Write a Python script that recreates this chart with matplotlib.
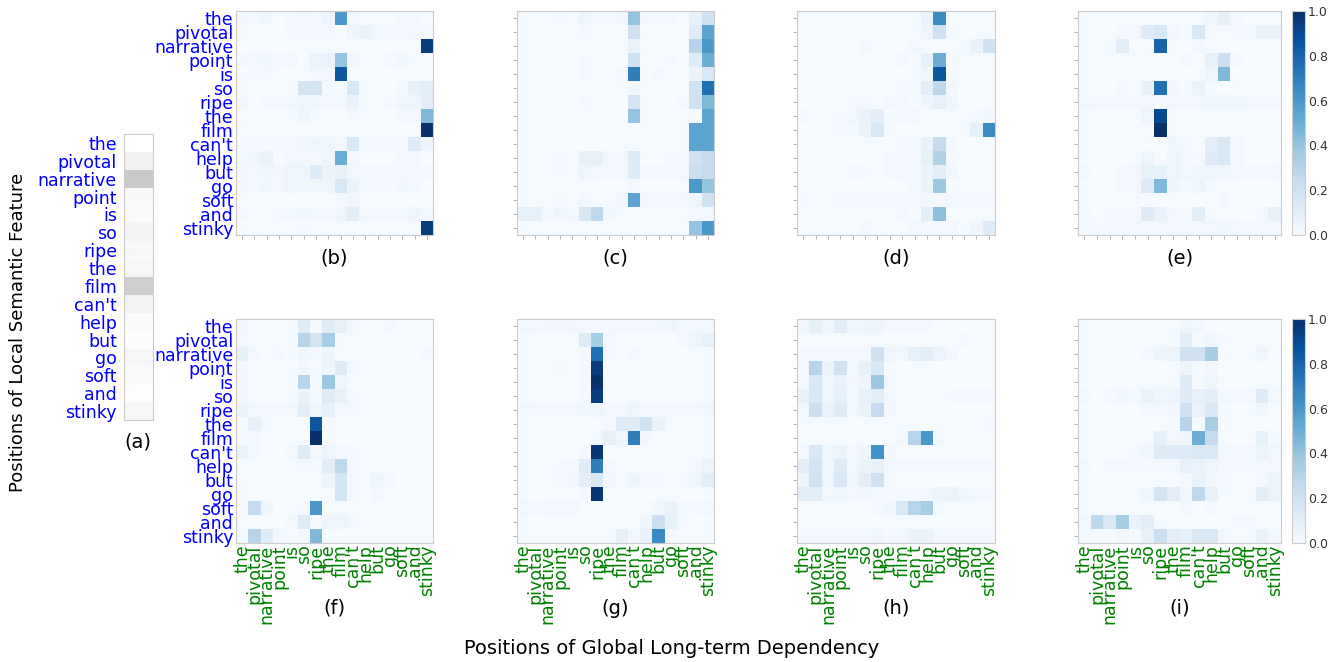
import numpy as np
import matplotlib
matplotlib.use("Agg")
import matplotlib.pyplot as plt

words = ["the", "pivotal", "narrative", "point", "is", "so", "ripe", "the",
         "film", "can't", "help", "but", "go", "soft", "and", "stinky"]

# (a) local semantic weights, in percent
local_weights = [0, 12, 32, 6, 5, 10, 6, 8, 30, 10, 4, 3, 8, 5, 2, 8]

# attention maps, rows = local positions, cols = global positions (percent)
att_b = [
    [2, 2, 4, 1, 2, 3, 2, 5, 60, 3, 1, 1, 1, 2, 2, 1],
    [1, 1, 1, 1, 2, 2, 3, 2, 1, 5, 6, 3, 2, 2, 3, 3],
    [1, 1, 1, 1, 1, 1, 1, 1, 1, 1, 1, 1, 1, 1, 1, 95],
    [2, 3, 4, 2, 3, 1, 6, 7, 40, 3, 1, 1, 2, 4, 1, 1],
    [1, 2, 3, 1, 1, 1, 2, 3, 85, 1, 1, 1, 1, 1, 1, 1],
    [1, 1, 1, 1, 1, 18, 18, 1, 1, 15, 1, 1, 1, 2, 8, 10],
    [2, 1, 2, 2, 2, 4, 4, 2, 2, 7, 1, 1, 2, 4, 5, 10],
    [1, 1, 1, 1, 1, 4, 1, 1, 1, 2, 1, 1, 1, 2, 2, 45],
    [1, 1, 1, 1, 1, 1, 1, 1, 1, 1, 1, 1, 1, 1, 1, 100],
    [1, 2, 2, 2, 3, 4, 5, 4, 3, 15, 2, 2, 2, 3, 12, 5],
    [2, 4, 7, 1, 3, 2, 2, 4, 50, 2, 1, 1, 1, 2, 3, 1],
    [2, 3, 4, 3, 5, 5, 12, 6, 8, 3, 2, 2, 2, 3, 2, 2],
    [2, 2, 4, 2, 5, 3, 4, 4, 15, 6, 2, 2, 2, 4, 2, 1],
    [1, 1, 1, 1, 1, 1, 1, 1, 2, 3, 1, 1, 1, 1, 1, 1],
    [2, 1, 1, 2, 3, 4, 3, 2, 5, 10, 2, 2, 2, 2, 5, 3],
    [1, 1, 1, 1, 1, 2, 1, 1, 1, 1, 1, 1, 1, 1, 1, 95],
]
att_c = [
    [1, 1, 1, 2, 1, 5, 2, 2, 3, 40, 2, 2, 2, 1, 8, 20],
    [1, 1, 1, 1, 1, 2, 1, 1, 1, 20, 1, 1, 1, 1, 12, 55],
    [1, 1, 1, 1, 1, 1, 1, 1, 1, 7, 1, 1, 1, 1, 30, 60],
    [1, 1, 1, 1, 1, 2, 1, 1, 1, 20, 1, 1, 2, 1, 12, 50],
    [1, 1, 1, 1, 1, 2, 1, 1, 2, 70, 1, 2, 1, 1, 6, 15],
    [1, 1, 1, 1, 1, 1, 1, 1, 1, 3, 1, 1, 1, 1, 20, 75],
    [1, 1, 1, 1, 1, 2, 1, 1, 1, 17, 1, 1, 1, 2, 20, 45],
    [1, 1, 1, 1, 1, 1, 1, 1, 1, 40, 1, 1, 1, 1, 1, 55],
    [1, 1, 1, 1, 1, 1, 1, 1, 1, 1, 1, 1, 1, 1, 55, 55],
    [1, 1, 1, 1, 1, 1, 1, 1, 1, 1, 1, 1, 1, 1, 55, 55],
    [1, 1, 1, 2, 1, 8, 8, 3, 3, 12, 1, 1, 2, 2, 20, 25],
    [1, 1, 1, 2, 1, 5, 3, 2, 2, 12, 2, 2, 2, 3, 22, 25],
    [1, 1, 1, 1, 1, 1, 1, 1, 1, 2, 1, 1, 1, 1, 60, 40],
    [1, 1, 1, 2, 1, 3, 1, 1, 2, 55, 2, 2, 2, 2, 5, 20],
    [8, 8, 2, 5, 3, 15, 28, 4, 1, 1, 1, 1, 1, 1, 2, 3],
    [1, 1, 1, 1, 1, 1, 1, 1, 1, 1, 1, 1, 1, 1, 40, 60],
]
att_d = [
    [1, 1, 1, 1, 1, 1, 1, 1, 1, 1, 7, 65, 1, 1, 1, 1],
    [1, 1, 1, 1, 1, 1, 1, 1, 1, 1, 5, 20, 2, 1, 1, 1],
    [1, 1, 1, 1, 1, 3, 1, 1, 1, 2, 1, 1, 1, 1, 6, 20],
    [1, 1, 1, 1, 1, 1, 1, 1, 2, 1, 8, 50, 2, 1, 1, 1],
    [1, 1, 1, 1, 1, 1, 1, 1, 1, 1, 4, 85, 1, 1, 1, 1],
    [1, 1, 1, 1, 1, 1, 1, 1, 2, 2, 10, 28, 3, 1, 1, 1],
    [1, 1, 1, 1, 2, 2, 1, 2, 2, 1, 5, 8, 4, 1, 1, 1],
    [2, 1, 1, 2, 3, 6, 10, 1, 2, 3, 1, 1, 1, 1, 2, 4],
    [1, 1, 1, 2, 1, 6, 15, 1, 1, 1, 1, 1, 1, 1, 8, 65],
    [1, 1, 1, 1, 1, 1, 1, 1, 2, 2, 7, 25, 3, 1, 1, 1],
    [1, 1, 1, 1, 1, 1, 1, 2, 3, 2, 8, 32, 2, 1, 1, 1],
    [1, 1, 1, 1, 2, 2, 1, 2, 3, 2, 6, 10, 3, 1, 1, 1],
    [1, 1, 1, 1, 1, 1, 1, 1, 1, 2, 6, 38, 1, 1, 1, 1],
    [2, 1, 1, 2, 2, 3, 3, 2, 2, 2, 2, 2, 2, 2, 2, 3],
    [1, 1, 1, 1, 1, 1, 1, 1, 2, 1, 10, 42, 1, 1, 1, 1],
    [1, 1, 1, 1, 1, 3, 1, 1, 1, 2, 2, 2, 3, 1, 4, 12],
]
att_e = [
    [1, 1, 1, 1, 1, 1, 1, 1, 1, 1, 4, 8, 2, 1, 1, 1],
    [2, 1, 1, 2, 2, 12, 15, 3, 1, 15, 2, 1, 2, 2, 6, 7],
    [1, 1, 1, 10, 1, 1, 80, 1, 1, 3, 1, 1, 1, 1, 1, 1],
    [1, 1, 1, 1, 1, 1, 1, 1, 2, 1, 8, 22, 2, 1, 1, 1],
    [1, 1, 1, 1, 1, 1, 1, 1, 1, 1, 5, 45, 1, 1, 1, 1],
    [1, 1, 1, 2, 1, 8, 75, 2, 1, 6, 1, 1, 1, 1, 1, 1],
    [2, 2, 2, 2, 3, 3, 2, 3, 3, 3, 4, 5, 4, 3, 3, 2],
    [1, 1, 1, 1, 1, 5, 90, 1, 1, 1, 1, 1, 1, 1, 1, 1],
    [1, 1, 1, 1, 1, 1, 100, 1, 1, 1, 1, 1, 1, 1, 1, 1],
    [1, 1, 1, 1, 1, 1, 1, 4, 3, 1, 10, 15, 3, 1, 1, 1],
    [1, 1, 1, 1, 1, 5, 1, 5, 2, 2, 12, 15, 3, 1, 1, 1],
    [2, 1, 1, 2, 3, 8, 8, 5, 3, 4, 5, 5, 3, 2, 2, 3],
    [1, 1, 1, 2, 3, 12, 45, 4, 1, 5, 1, 1, 1, 1, 1, 1],
    [1, 1, 1, 1, 1, 1, 1, 1, 1, 1, 1, 3, 1, 1, 1, 1],
    [2, 1, 2, 3, 2, 12, 7, 2, 2, 10, 1, 1, 1, 1, 3, 8],
    [2, 2, 2, 2, 2, 2, 2, 3, 3, 3, 3, 4, 3, 2, 2, 2],
]
att_f = [
    [2, 1, 1, 1, 1, 12, 1, 12, 8, 2, 1, 1, 2, 1, 1, 1],
    [2, 1, 1, 1, 1, 30, 18, 35, 1, 1, 1, 1, 1, 1, 1, 1],
    [8, 2, 1, 2, 1, 4, 2, 5, 1, 1, 1, 1, 1, 1, 1, 2],
    [2, 1, 1, 1, 1, 3, 1, 4, 12, 2, 1, 1, 1, 1, 1, 1],
    [2, 1, 1, 1, 1, 30, 1, 38, 4, 1, 1, 1, 1, 1, 1, 1],
    [2, 1, 1, 1, 1, 6, 1, 12, 8, 2, 1, 1, 1, 1, 1, 1],
    [6, 2, 2, 2, 3, 10, 4, 8, 2, 2, 1, 1, 1, 1, 1, 1],
    [1, 8, 2, 1, 1, 1, 85, 1, 1, 1, 1, 1, 1, 1, 1, 1],
    [1, 3, 1, 1, 1, 1, 100, 1, 1, 1, 1, 1, 1, 1, 1, 1],
    [7, 2, 1, 1, 2, 12, 2, 5, 2, 2, 1, 1, 1, 1, 1, 1],
    [1, 1, 1, 1, 1, 2, 1, 10, 28, 2, 1, 1, 1, 1, 1, 1],
    [1, 1, 1, 1, 1, 1, 1, 5, 18, 3, 1, 5, 2, 1, 1, 1],
    [1, 1, 1, 1, 1, 1, 1, 1, 18, 2, 1, 3, 1, 1, 1, 1],
    [1, 25, 5, 1, 1, 2, 60, 1, 1, 1, 1, 1, 1, 1, 1, 1],
    [1, 1, 1, 1, 2, 12, 1, 5, 5, 2, 1, 1, 1, 1, 1, 1],
    [1, 30, 12, 2, 1, 2, 45, 1, 1, 1, 1, 1, 1, 1, 1, 1],
]
att_g = [
    [2, 2, 3, 3, 3, 2, 2, 2, 2, 2, 2, 3, 5, 2, 2, 2],
    [1, 1, 1, 1, 1, 12, 35, 2, 1, 1, 1, 1, 1, 2, 5, 8],
    [1, 1, 1, 1, 1, 2, 75, 3, 1, 2, 1, 1, 1, 1, 1, 1],
    [1, 1, 1, 2, 1, 2, 95, 1, 1, 1, 1, 1, 1, 1, 1, 1],
    [1, 1, 1, 1, 1, 2, 100, 1, 1, 1, 1, 1, 1, 1, 1, 1],
    [1, 1, 1, 1, 1, 2, 95, 1, 1, 1, 1, 1, 1, 1, 1, 1],
    [2, 2, 2, 3, 3, 4, 5, 2, 2, 5, 2, 2, 2, 2, 2, 4],
    [1, 1, 1, 1, 1, 1, 1, 2, 12, 12, 20, 6, 1, 1, 1, 1],
    [1, 1, 1, 1, 1, 1, 3, 8, 5, 70, 2, 1, 1, 1, 1, 1],
    [1, 1, 1, 1, 1, 2, 98, 1, 1, 1, 1, 1, 1, 1, 1, 1],
    [1, 1, 1, 2, 2, 12, 70, 2, 1, 1, 1, 1, 1, 1, 2, 6],
    [1, 1, 1, 2, 2, 10, 15, 3, 1, 5, 2, 2, 1, 2, 4, 10],
    [1, 1, 1, 1, 1, 2, 98, 1, 1, 1, 1, 1, 1, 1, 1, 1],
    [3, 2, 3, 3, 3, 1, 1, 1, 1, 1, 1, 4, 7, 2, 2, 2],
    [1, 1, 1, 1, 1, 1, 1, 1, 1, 1, 4, 22, 8, 2, 1, 1],
    [1, 1, 1, 1, 1, 1, 1, 1, 8, 2, 7, 65, 2, 1, 1, 1],
]
att_h = [
    [3, 8, 4, 10, 4, 5, 5, 2, 2, 2, 2, 1, 1, 1, 1, 1],
    [1, 1, 1, 1, 1, 1, 1, 1, 1, 1, 1, 1, 1, 2, 1, 1],
    [2, 2, 2, 2, 2, 2, 20, 5, 3, 8, 10, 6, 3, 1, 1, 1],
    [2, 30, 7, 20, 3, 8, 15, 1, 1, 1, 1, 1, 1, 1, 1, 1],
    [2, 15, 4, 7, 2, 5, 38, 3, 1, 1, 1, 1, 1, 1, 1, 1],
    [8, 15, 4, 8, 2, 8, 10, 3, 1, 1, 1, 1, 2, 2, 2, 2],
    [3, 22, 7, 12, 3, 6, 25, 2, 1, 1, 1, 1, 1, 1, 1, 1],
    [1, 1, 1, 1, 1, 1, 1, 1, 1, 1, 1, 1, 1, 1, 1, 2],
    [1, 1, 1, 1, 1, 1, 1, 1, 2, 30, 60, 2, 1, 1, 1, 1],
    [2, 15, 5, 6, 2, 5, 62, 2, 1, 1, 1, 1, 1, 1, 1, 1],
    [10, 18, 4, 12, 3, 6, 8, 3, 2, 2, 2, 3, 3, 2, 2, 2],
    [5, 20, 5, 15, 4, 10, 20, 3, 1, 1, 1, 1, 1, 1, 1, 1],
    [10, 10, 2, 4, 3, 4, 3, 2, 2, 2, 3, 6, 6, 4, 2, 2],
    [1, 1, 1, 1, 1, 1, 2, 4, 15, 30, 35, 2, 1, 1, 1, 1],
    [1, 1, 1, 1, 1, 1, 1, 1, 1, 1, 1, 1, 1, 1, 1, 1],
    [2, 2, 2, 2, 2, 2, 4, 2, 2, 6, 6, 2, 2, 2, 2, 2],
]
att_i = [
    [1, 1, 1, 1, 1, 1, 1, 1, 4, 2, 1, 1, 1, 1, 1, 1],
    [1, 1, 1, 1, 1, 1, 1, 1, 10, 1, 4, 2, 1, 1, 1, 1],
    [1, 1, 1, 1, 1, 2, 5, 6, 20, 20, 35, 1, 1, 1, 5, 1],
    [1, 1, 1, 1, 1, 1, 1, 1, 5, 1, 3, 1, 1, 1, 1, 1],
    [1, 1, 1, 1, 1, 1, 1, 1, 12, 1, 4, 1, 1, 1, 1, 1],
    [2, 1, 2, 4, 2, 7, 4, 5, 12, 8, 10, 2, 2, 2, 12, 2],
    [1, 1, 1, 1, 1, 2, 2, 3, 20, 7, 15, 1, 1, 1, 4, 1],
    [1, 1, 1, 1, 1, 1, 1, 1, 30, 1, 35, 1, 1, 1, 1, 1],
    [1, 1, 1, 1, 1, 1, 8, 3, 4, 50, 25, 1, 1, 1, 8, 1],
    [1, 1, 1, 1, 2, 4, 12, 12, 12, 15, 15, 2, 2, 2, 6, 3],
    [2, 1, 2, 2, 2, 2, 2, 2, 8, 7, 5, 2, 2, 2, 2, 3],
    [1, 1, 1, 1, 1, 1, 1, 1, 2, 7, 3, 2, 1, 1, 2, 6],
    [1, 1, 1, 1, 1, 4, 18, 10, 3, 28, 8, 1, 1, 1, 10, 6],
    [1, 1, 1, 1, 1, 1, 1, 1, 3, 1, 2, 1, 1, 1, 1, 1],
    [2, 28, 15, 35, 7, 10, 1, 1, 1, 1, 1, 1, 2, 3, 1, 1],
    [1, 1, 1, 3, 1, 8, 22, 10, 8, 15, 15, 2, 1, 1, 7, 2],
]

W, H = 1334, 662
fig = plt.figure(figsize=(W / 100, H / 100), dpi=100)


def px_axes(x0, y0, x1, y1):
    # pixel box (top-left origin) -> figure axes
    return fig.add_axes([x0 / W, 1 - y1 / H, (x1 - x0) / W, (y1 - y0) / H])


def style(ax):
    for s in ax.spines.values():
        s.set_color("#cccccc")
        s.set_linewidth(0.8)
    ax.tick_params(length=3, width=0.6, color="#aaaaaa", pad=1)


n = len(words)
ticks = np.arange(n) + 0.5
lab_size = 12.5

# (a)
ax_a = px_axes(124, 134, 153, 420)
ax_a.pcolormesh(np.array(local_weights, dtype=float)[:, None] / 100,
                cmap="Greys", vmin=0, vmax=1)
ax_a.set_ylim(n, 0)
ax_a.set_xticks([])
ax_a.set_yticks(ticks)
ax_a.set_yticklabels(words, color="blue", fontsize=lab_size)
style(ax_a)
ax_a.tick_params(left=False, pad=2)
fig.text(138 / W, 1 - 442 / H, "(a)", ha="center", va="center", fontsize=14)

panels = [
    ("(b)", att_b, 236, 11, 433, 235),
    ("(c)", att_c, 517, 11, 714, 235),
    ("(d)", att_d, 797, 11, 995, 235),
    ("(e)", att_e, 1078, 11, 1281, 235),
    ("(f)", att_f, 236, 319, 433, 543),
    ("(g)", att_g, 517, 319, 714, 543),
    ("(h)", att_h, 797, 319, 995, 543),
    ("(i)", att_i, 1078, 319, 1281, 543),
]

for k, (tag, data, x0, y0, x1, y1) in enumerate(panels):
    ax = px_axes(x0, y0, x1, y1)
    mesh = ax.pcolormesh(np.array(data, dtype=float) / 100, cmap="Blues",
                         vmin=0, vmax=1)
    ax.set_ylim(n, 0)
    ax.set_xlim(0, n)
    ax.set_xticks(ticks)
    ax.set_yticks(ticks)
    style(ax)
    if k in (0, 4):
        ax.set_yticklabels(words, color="blue", fontsize=lab_size)
        ax.tick_params(axis="y", length=0, pad=2)
    else:
        ax.set_yticklabels([])
    if k >= 4:
        ax.set_xticklabels(words, color="green", fontsize=lab_size,
                           rotation=90)
        ax.tick_params(axis="x", length=0)
        tag_y = 608
    else:
        ax.set_xticklabels([])
        tag_y = 258
    fig.text((x0 + x1) / 2 / W, 1 - tag_y / H, tag, ha="center",
             va="center", fontsize=14)

    if k in (3, 7):
        cax = px_axes(1292, y0, 1305, y1)
        cb = fig.colorbar(mesh, cax=cax, ticks=np.arange(0, 1.01, 0.2))
        cb.outline.set_edgecolor("#cccccc")
        cb.outline.set_linewidth(0.8)
        cax.tick_params(labelsize=9, length=0, pad=2, labelcolor="#333333")

fig.text(18 / W, 1 - 332 / H, "Positions of Local Semantic Feature",
         rotation=90, ha="center", va="center", fontsize=13)
fig.text(672 / W, 1 - 648 / H, "Positions of Global Long-term Dependency",
         ha="center", va="center", fontsize=14)

fig.savefig("out.png", dpi=100)
